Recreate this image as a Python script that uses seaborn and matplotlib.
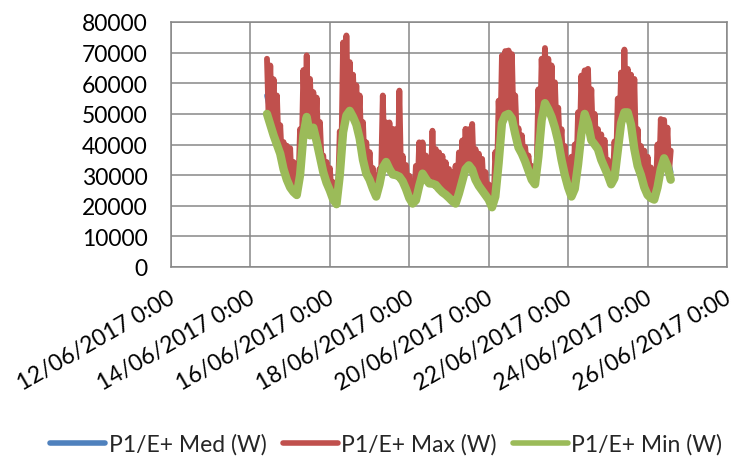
import matplotlib
matplotlib.use("Agg")
import pandas as pd
import matplotlib.pyplot as plt
from matplotlib.transforms import ScaledTranslation
import seaborn as sns

# ---------------- data ----------------
series_names = ["P1/E+ Med (W)", "P1/E+ Max (W)", "P1/E+ Min (W)"]
series_colors = ["#4F81BD", "#C0504D", "#9BBB59"]

# Min and Med: every 2 hours from 14/06/2017 10:00 to 24/06/2017 14:00
min_w = [
    50000, 46500, 43000, 40000, 37000, 32000, 28500, 26000, 24500, 23500,
    30000, 43000, 49000, 43000, 45500, 41000, 36000, 31000, 27500, 25000,
    22000, 20500, 30000, 44000, 49500, 51000, 49000, 46500, 42000, 35000,
    30500, 28500, 25500, 23000, 27000, 32500, 34300, 32000, 30200, 30000,
    29500, 28000, 25500, 22500, 20700, 21800, 26500, 30500, 28800, 27300,
    27200, 26800, 25500, 24400, 23600, 22600, 21500, 20700, 24000, 28000,
    32000, 33200, 31800, 28500, 26500, 25000, 23500, 22000, 19500, 23000,
    34000, 47000, 49500, 50000, 48500, 43500, 39000, 37000, 34500, 31500,
    28500, 27000, 36000, 48000, 53500, 51500, 49000, 45500, 41000, 35000,
    30000, 26000, 23000, 25500, 33500, 43600, 50000, 46900, 41400, 40000,
    38500, 35000, 32500, 30000, 27000, 29000, 38000, 47000, 50500, 50500,
    46500, 38500, 33000, 30000, 26000, 23500, 22500, 22000, 26000, 32000,
    35500, 33000, 28500,
]
med_w = [
    56000, 51000, 45500, 42500, 39500, 34500, 31000, 28500, 27000, 26000,
    32500, 45500, 51500, 45500, 48000, 43500, 38500, 33500, 30000, 27500,
    24500, 23000, 32500, 46500, 52000, 53500, 51500, 49000, 44500, 37500,
    33000, 31000, 28000, 25500, 29500, 35000, 36800, 34500, 32700, 32500,
    32000, 30500, 28000, 25000, 23200, 24300, 29000, 33000, 31300, 29800,
    29700, 29300, 28000, 26900, 26100, 25100, 24000, 23200, 26500, 30500,
    34500, 35700, 34300, 31000, 29000, 27500, 26000, 24500, 22000, 25500,
    36500, 49500, 52000, 52500, 51000, 46000, 41500, 39500, 37000, 34000,
    31000, 29500, 38500, 50500, 56000, 54000, 51500, 48000, 43500, 37500,
    32500, 28500, 25500, 28000, 36000, 46100, 52500, 49400, 43900, 42500,
    41000, 37500, 35000, 32500, 29500, 31500, 40500, 49500, 53000, 53000,
    49000, 41000, 35500, 32500, 28500, 26000, 25000, 24500, 28500, 34500,
    38000, 35500, 31000,
]
# Max: every hour from 14/06/2017 10:00 to 24/06/2017 14:00
max_w = [
    68000, 48800, 65800, 45300, 61300, 42000, 56000, 39000, 46300, 35000, 40800, 30800,
    39600, 27800, 38800, 25800, 34300, 24500, 31000, 27300, 45000, 37000, 64300, 46500,
    69100, 46500, 61400, 44800, 57100, 43800, 55300, 39000, 47300, 34000, 36400, 29800,
    34300, 26800, 32300, 24000, 27700, 21800, 26300, 25800, 44300, 37500, 73300, 47300,
    75600, 50800, 66900, 50500, 62800, 48300, 59300, 44800, 56000, 39000, 47300, 33300,
    40700, 30000, 37500, 27500, 32300, 24800, 29800, 25500, 32000, 30300, 56000, 33900,
    47200, 33700, 47200, 31600, 45100, 30600, 45000, 30300, 57600, 29300, 36300, 27300,
    33300, 24500, 29800, 22100, 27000, 21800, 33000, 24700, 40700, 29000, 40700, 30200,
    36400, 28600, 34300, 27800, 44500, 27500, 38500, 26700, 37400, 25500, 36300, 24500,
    34200, 23600, 32000, 22600, 30900, 21600, 33100, 22900, 37400, 26500, 41300, 30500,
    45100, 33100, 45000, 33000, 46700, 30700, 38500, 28000, 37000, 26300, 35300, 24800,
    31000, 23300, 27000, 21300, 25800, 21800, 37500, 29000, 54300, 41000, 69000, 48800,
    70500, 50300, 70700, 49800, 69500, 46500, 56000, 41800, 45300, 38500, 43000, 36300,
    39200, 33500, 36400, 30500, 33000, 28300, 31000, 32000, 58000, 42500, 68000, 51300,
    71500, 53000, 68000, 50800, 65800, 47800, 60300, 43800, 52000, 38500, 45000, 33000,
    39500, 28500, 33200, 25000, 36000, 24800, 40000, 30000, 50500, 39100, 62500, 47300,
    64200, 49000, 64700, 44700, 58000, 41200, 50000, 39800, 45000, 37300, 43300, 34300,
    41500, 31800, 35000, 29000, 31000, 28500, 41000, 34000, 55000, 43000, 63500, 49300,
    71000, 51000, 64700, 49000, 62800, 43000, 61400, 36300, 45000, 32000, 39500, 28500,
    38000, 25300, 36000, 23500, 32500, 22800, 31000, 24500, 40000, 29500, 48300, 34300,
    48000, 34800, 45500, 31300, 38000,
]
x_tick_dates = ["2017-06-12", "2017-06-14", "2017-06-16", "2017-06-18",
                "2017-06-20", "2017-06-22", "2017-06-24", "2017-06-26"]
x_tick_labels = ["12/06/2017 0:00", "14/06/2017 0:00", "16/06/2017 0:00",
                 "18/06/2017 0:00", "20/06/2017 0:00", "22/06/2017 0:00",
                 "24/06/2017 0:00", "26/06/2017 0:00"]
y_ticks = [0, 10000, 20000, 30000, 40000, 50000, 60000, 70000, 80000]

# ---------------- frames ----------------
t2 = pd.date_range("2017-06-14 10:00", periods=len(min_w), freq="2h")
t1 = pd.date_range("2017-06-14 10:00", periods=len(max_w), freq="1h")
df_med = pd.DataFrame({"time": t2, "value": med_w})
df_max = pd.DataFrame({"time": t1, "value": max_w})
df_min = pd.DataFrame({"time": t2, "value": min_w})

# ---------------- style ----------------
sns.set_style("white")
plt.rcParams["font.family"] = ["Lato", "DejaVu Sans"]
plt.rcParams["path.simplify"] = False
plt.rcParams["lines.solid_joinstyle"] = "round"
FS = 16.5
GRID = "#878787"

fig = plt.figure(figsize=(7.33, 4.60), dpi=100)
ax = fig.add_axes([171 / 733, 1 - 268 / 460, (727 - 171) / 733, (268 - 23) / 460])

sns.lineplot(data=df_med, x="time", y="value", ax=ax, color=series_colors[0],
             lw=4.0, label=series_names[0], estimator=None, zorder=3)
sns.lineplot(data=df_max, x="time", y="value", ax=ax, color=series_colors[1],
             lw=4.2, label=series_names[1], estimator=None, zorder=4)
sns.lineplot(data=df_min, x="time", y="value", ax=ax, color=series_colors[2],
             lw=6.0, label=series_names[2], estimator=None, zorder=5)
for ln in ax.get_lines():
    ln.set_solid_joinstyle("round")
    ln.set_solid_capstyle("round")

ax.set_xlim(pd.Timestamp(x_tick_dates[0]), pd.Timestamp(x_tick_dates[-1]))
ax.set_ylim(y_ticks[0], y_ticks[-1])
ax.set_yticks(y_ticks)
ax.set_yticklabels([str(v) for v in y_ticks])
ax.set_xticks([pd.Timestamp(d) for d in x_tick_dates])
ax.set_xticklabels(x_tick_labels, rotation=30, ha="right", va="top",
                   rotation_mode="anchor")
ax.set_xlabel("")
ax.set_ylabel("")

ax.grid(True, color=GRID, lw=1.1)
ax.set_axisbelow(True)
for s in ax.spines.values():
    s.set_visible(True)
    s.set_color(GRID)
    s.set_linewidth(1.1)
ax.tick_params(axis="both", length=0, labelsize=FS, colors="black")
ax.tick_params(axis="y", pad=17)
ax.tick_params(axis="x", pad=14)
off = ScaledTranslation(-3 / 100, 0, fig.dpi_scale_trans)
for lab in ax.get_xticklabels():
    lab.set_transform(lab.get_transform() + off)

handles, labels = ax.get_legend_handles_labels()
ax.get_legend().remove()
leg = fig.legend(handles, labels, loc="center", bbox_to_anchor=(0.527, 0.033),
                 ncol=3, frameon=False, fontsize=FS, handlelength=2.4,
                 handletextpad=0.15, columnspacing=0.7)
for h in leg.get_lines():
    h.set_linewidth(4)
    h.set_solid_capstyle("round")

fig.savefig("out.png", dpi=100)
